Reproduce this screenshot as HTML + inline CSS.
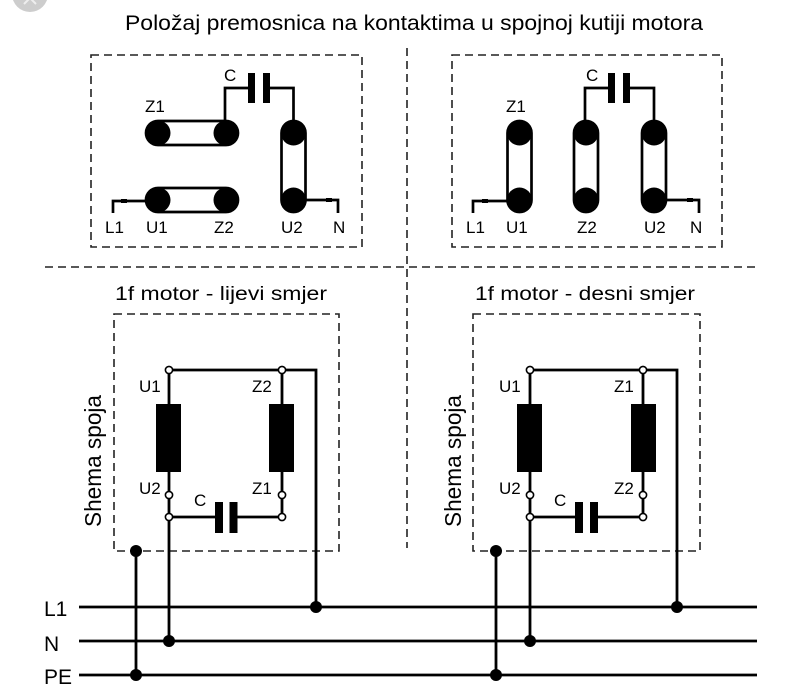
<!DOCTYPE html>
<html>
<head>
<meta charset="utf-8">
<style>
  html,body{margin:0;padding:0;background:#fff;}
  svg{display:block;}
  text{font-family:"Liberation Sans", Arial, sans-serif; fill:#000;}
</style>
</head>
<body>
<svg width="800" height="691" viewBox="0 0 800 691" xmlns="http://www.w3.org/2000/svg">
  <rect x="0" y="0" width="800" height="691" fill="#fff"/>

  <!-- corner grey button artifact -->
  <circle cx="30" cy="-6" r="18" fill="#cdcdcd"/>
  <path d="M24 4 L30 -2 M36 4 L30 -2" stroke="#eee" stroke-width="2"/>

  <!-- Title -->
  <text x="125" y="30" font-size="21" textLength="578" lengthAdjust="spacingAndGlyphs">Položaj premosnica na kontaktima u spojnoj kutiji motora</text>

  <!-- Dashed separators -->
  <g stroke="#222" stroke-width="1.6" stroke-dasharray="8,5" fill="none">
    <line x1="407" y1="48" x2="407" y2="548"/>
    <line x1="45" y1="267" x2="757" y2="267"/>
    <rect x="91" y="55" width="271" height="192"/>
    <rect x="452" y="55" width="270" height="192"/>
    <rect x="114" y="314" width="225" height="237"/>
    <rect x="473" y="314" width="227" height="237"/>
  </g>

  <!-- ===== Top-left box ===== -->
  <g stroke="#000" stroke-width="2.7" fill="none">
    <polyline points="225,121 225,88 249,88"/>
    <polyline points="269,88 293.5,88 293.5,122"/>
    <polyline points="113,213 113,201 146,201"/>
    <polyline points="305,200 338,200 338,213"/>
    <rect x="146" y="121" width="92" height="24" rx="12" fill="#fff"/>
    <rect x="146" y="188" width="92" height="24" rx="12" fill="#fff"/>
    <rect x="281.5" y="121" width="24" height="91" rx="12" fill="#fff"/>
  </g>
  <g fill="#000">
    <rect x="248" y="73" width="7" height="30"/>
    <rect x="263" y="73" width="7" height="30"/>
    <circle cx="158" cy="133" r="12.5"/>
    <circle cx="226" cy="133" r="12.5"/>
    <circle cx="158" cy="200" r="12.5"/>
    <circle cx="226" cy="200" r="12.5"/>
    <circle cx="293.5" cy="133" r="12.5"/>
    <circle cx="293.5" cy="200" r="12.5"/>
    <rect x="121" y="199" width="6" height="4"/>
    <rect x="326" y="198" width="6" height="4"/>
  </g>
  <g font-size="17">
    <text x="224" y="81">C</text>
    <text x="145" y="112">Z1</text>
    <text x="105" y="233">L1</text>
    <text x="146" y="233">U1</text>
    <text x="214" y="233">Z2</text>
    <text x="281" y="233">U2</text>
    <text x="333" y="233">N</text>
  </g>

  <!-- ===== Top-right box ===== -->
  <g stroke="#000" stroke-width="2.7" fill="none">
    <polyline points="585,121 585,88 609,88"/>
    <polyline points="629,88 654,88 654,122"/>
    <polyline points="473,213 473,201 508,201"/>
    <polyline points="666,200 699,200 699,213"/>
    <rect x="507.5" y="121" width="24" height="91" rx="12" fill="#fff"/>
    <rect x="574" y="121" width="24" height="91" rx="12" fill="#fff"/>
    <rect x="642" y="121" width="24" height="91" rx="12" fill="#fff"/>
  </g>
  <g fill="#000">
    <rect x="608" y="73" width="7" height="30"/>
    <rect x="623" y="73" width="7" height="30"/>
    <circle cx="519.5" cy="133" r="12.5"/>
    <circle cx="519.5" cy="200" r="12.5"/>
    <circle cx="586" cy="133" r="12.5"/>
    <circle cx="586" cy="200" r="12.5"/>
    <circle cx="654" cy="133" r="12.5"/>
    <circle cx="654" cy="200" r="12.5"/>
    <rect x="482" y="199" width="6" height="4"/>
    <rect x="687" y="198" width="6" height="4"/>
  </g>
  <g font-size="17">
    <text x="586" y="81">C</text>
    <text x="506" y="112">Z1</text>
    <text x="466" y="233">L1</text>
    <text x="506" y="233">U1</text>
    <text x="577" y="233">Z2</text>
    <text x="644" y="233">U2</text>
    <text x="690" y="233">N</text>
  </g>

  <!-- ===== Lower titles ===== -->
  <text x="115" y="300" font-size="19" textLength="212" lengthAdjust="spacingAndGlyphs">1f motor - lijevi smjer</text>
  <text x="475" y="300" font-size="19" textLength="220" lengthAdjust="spacingAndGlyphs">1f motor - desni smjer</text>

  <!-- Shema spoja vertical labels -->
  <text transform="translate(101,527) rotate(-90)" font-size="23" textLength="132" lengthAdjust="spacingAndGlyphs">Shema spoja</text>
  <text transform="translate(461,527) rotate(-90)" font-size="23" textLength="132" lengthAdjust="spacingAndGlyphs">Shema spoja</text>

  <!-- ===== Lower-left circuit ===== -->
  <g stroke="#000" stroke-width="2.8" fill="none">
    <polyline points="169,370 316,370 316,607"/>
    <line x1="169" y1="370" x2="169" y2="641"/>
    <line x1="282" y1="370" x2="282" y2="517"/>
    <line x1="169" y1="517" x2="216" y2="517"/>
    <line x1="236" y1="517" x2="282" y2="517"/>
    <line x1="136" y1="551" x2="136" y2="675"/>
  </g>
  <g fill="#000">
    <rect x="156" y="404" width="25" height="68"/>
    <rect x="269" y="404" width="25" height="68"/>
    <rect x="215" y="502" width="8" height="31"/>
    <rect x="229.5" y="502" width="8" height="31"/>
  </g>
  <g fill="#fff" stroke="#000" stroke-width="1.6">
    <circle cx="169" cy="370" r="3.6"/>
    <circle cx="282" cy="370" r="3.6"/>
    <circle cx="169" cy="495" r="3.6"/>
    <circle cx="282" cy="495" r="3.6"/>
    <circle cx="169" cy="517" r="3.6"/>
    <circle cx="282" cy="517" r="3.6"/>
  </g>
  <g font-size="17">
    <text x="139" y="392">U1</text>
    <text x="252" y="392">Z2</text>
    <text x="139" y="494">U2</text>
    <text x="252" y="494">Z1</text>
    <text x="194" y="506">C</text>
  </g>

  <!-- ===== Lower-right circuit ===== -->
  <g stroke="#000" stroke-width="2.8" fill="none">
    <polyline points="530,370 677,370 677,607"/>
    <line x1="530" y1="370" x2="530" y2="641"/>
    <line x1="643" y1="370" x2="643" y2="517"/>
    <line x1="530" y1="517" x2="576" y2="517"/>
    <line x1="597" y1="517" x2="643" y2="517"/>
    <line x1="496" y1="551" x2="496" y2="675"/>
  </g>
  <g fill="#000">
    <rect x="517" y="404" width="25" height="68"/>
    <rect x="631" y="404" width="25" height="68"/>
    <rect x="575" y="502" width="8" height="31"/>
    <rect x="590" y="502" width="8" height="31"/>
  </g>
  <g fill="#fff" stroke="#000" stroke-width="1.6">
    <circle cx="530" cy="370" r="3.6"/>
    <circle cx="643" cy="370" r="3.6"/>
    <circle cx="530" cy="495" r="3.6"/>
    <circle cx="643" cy="495" r="3.6"/>
    <circle cx="530" cy="517" r="3.6"/>
    <circle cx="643" cy="517" r="3.6"/>
  </g>
  <g font-size="17">
    <text x="499" y="392">U1</text>
    <text x="614" y="392">Z1</text>
    <text x="499" y="494">U2</text>
    <text x="614" y="494">Z2</text>
    <text x="554" y="506">C</text>
  </g>

  <!-- ===== Bus lines ===== -->
  <g stroke="#000" stroke-width="2.8">
    <line x1="79" y1="607" x2="757" y2="607"/>
    <line x1="79" y1="641" x2="757" y2="641"/>
    <line x1="79" y1="675" x2="757" y2="675"/>
  </g>
  <g fill="#000">
    <circle cx="136" cy="551" r="6"/>
    <circle cx="136" cy="675" r="6"/>
    <circle cx="169" cy="641" r="6"/>
    <circle cx="316" cy="607" r="6"/>
    <circle cx="496" cy="551" r="6"/>
    <circle cx="496" cy="675" r="6"/>
    <circle cx="530" cy="641" r="6"/>
    <circle cx="677" cy="607" r="6"/>
  </g>
  <g font-size="21">
    <text x="44" y="616">L1</text>
    <text x="44" y="651">N</text>
    <text x="44" y="684">PE</text>
  </g>
</svg>
</body>
</html>
